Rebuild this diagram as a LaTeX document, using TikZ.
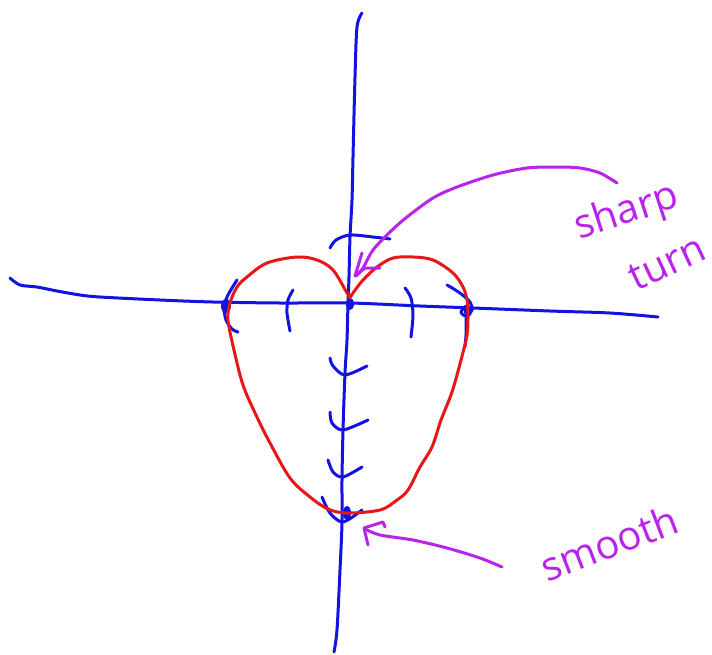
\documentclass[tikz,border=0pt]{standalone}
\usepackage{fontspec}
\setmainfont{Open Sans}
\definecolor{penblue}{RGB}{18,18,225}
\definecolor{penred}{RGB}{232,22,22}
\definecolor{penpurple}{RGB}{185,35,235}
\begin{document}
\begin{tikzpicture}[x=1pt,y=-1pt,
  bluepen/.style={draw=penblue,line width=3pt,line cap=round,line join=round},
  redpen/.style={draw=penred,line width=3pt,line cap=round,line join=round},
  purplepen/.style={draw=penpurple,line width=3pt,line cap=round,line join=round},
  handtext/.style={text=penpurple,font=\fontsize{40}{40}\selectfont,inner sep=0pt}]
\path[use as bounding box,fill=white] (0,0) rectangle (712,654);
% axes
\draw[bluepen] plot[smooth,tension=0.5] coordinates {(10,278) (20,285) (37,287) (57,291) (80,295) (100,297) (160,300) (213,302) (280,303) (350,303) (420,306) (473,308) (550,311) (610,313) (658,317)};
\draw[bluepen] plot[smooth,tension=0.5] coordinates {(362,13) (357,27) (355,77) (353,157) (352,200) (350,237) (349,277) (348,303) (347,340) (345,373) (343,430) (342,480) (342,523) (340,570) (337,630) (334,652)};
% ticks
\draw[bluepen] plot[smooth] coordinates {(293,290) (288,300) (287,313) (290,331)};
\draw[bluepen] plot[smooth] coordinates {(405,288) (411,298) (413,315) (411,337)};
\draw[bluepen] plot[smooth] coordinates {(330,248) (336,240) (350,235) (373,237) (390,239)};
\draw[bluepen] plot[smooth] coordinates {(330,358) (333,366) (345,375) (367,366)};
\draw[bluepen] plot[smooth] coordinates {(330,412) (332,423) (343,430) (368,420)};
\draw[bluepen] plot[smooth] coordinates {(328,460) (333,472) (343,477) (362,467)};
\draw[bluepen] plot[smooth] coordinates {(322,497) (330,513) (343,522) (362,510)};
\draw[bluepen] plot[smooth] coordinates {(237,280) (228,295) (224,307) (226,320) (232,329) (238,332)};
\draw[bluepen] plot[smooth] coordinates {(447,285) (460,293) (470,302) (472,310) (466,316) (461,312) (466,306)};
\draw[bluepen] plot[smooth] coordinates {(466,318) (466,335) (465,347)};
\fill[penblue] (226,306) ellipse [x radius=5,y radius=7];
\fill[penblue] (468,311) ellipse [x radius=4,y radius=6];
\fill[penblue] (350,304) ellipse [x radius=4,y radius=6];
\fill[penblue] (347,513) ellipse [x radius=4,y radius=7];
% heart
\draw[redpen] plot[smooth,tension=0.55] coordinates {(350,298) (347,293) (333,270) (317,260) (297,257) (267,263) (247,277) (237,287) (230,303) (228,320) (234,350) (243,385) (256,415) (270,443) (290,478) (310,497) (328,509) (347,513) (380,510) (397,500) (408,490) (420,467) (432,447) (441,420) (452,392) (461,360) (467,335) (468,315) (467,300) (463,287) (453,273) (433,260) (413,257) (393,258) (377,267) (363,280) (353,293) (350,298)};
% annotations
\draw[purplepen] plot[smooth,tension=0.5] coordinates {(617,183) (600,173) (580,168) (557,167) (527,168) (493,175) (457,187) (433,198) (407,217) (390,232) (373,250) (363,268) (356,276)};
\draw[purplepen] (362,253) -- (355,276) -- (365,268) -- (380,268);
\draw[purplepen] plot[smooth,tension=0.5] coordinates {(502,567) (480,558) (447,548) (413,540) (380,535) (365,529)};
\draw[purplepen] (368,545) -- (364,528) -- (383,522) -- (385,527);
\node[handtext,rotate=18] (sharp) at (627,213) {sharp};
\node[handtext,rotate=25] (turn) at (667,263) {turn};
\node[handtext,rotate=21] (smooth) at (609,543) {smooth};
\end{tikzpicture}
\end{document}
